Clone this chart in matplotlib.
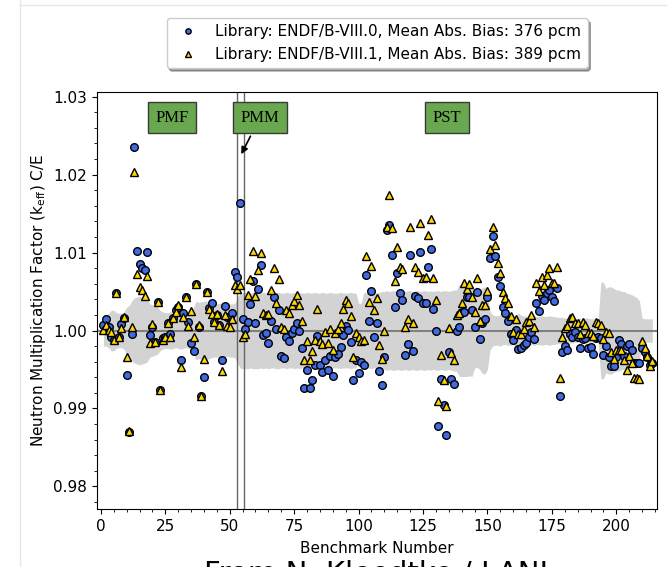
import numpy as np
import matplotlib
matplotlib.use("Agg")
import matplotlib.pyplot as plt
from matplotlib.lines import Line2D
from matplotlib.ticker import MultipleLocator
matplotlib.rcParams.update({'font.size': 11})

# C/E bias in pcm, benchmark order
bias_80 = [73, 149, 43, -77, -128, 487, -85, 85, 158, -576,
           -1307, -43, 2357, 1021, 850, 807, 773, 1012, -56, 51,
           -149, 371, -769, -98, -77, 102, -43, 158, 265, 307,
           -384, 222, 436, 115, -162, -269, 598, 51, -845, -598,
           491, 286, 359, 115, 201, 73, -384, 316, 171, 179,
           231, 747, 692, 1631, 149, 21, 115, 342, 641, 102,
           529, 841, -56, -26, -154, 124, 436, 21, 265, -325,
           -354, -77, -141, -34, 21, 94, 0, -226, -739, -512,
           -739, -632, -440, -68, -440, -534, -376, -512, -333, -589,
           -346, -303, -214, -56, 60, 9, -149, -641, -384, -547,
           -406, -448, 713, 128, 512, -85, 102, -525, -696, -346,
           1290, 1354, 969, 307, 734, 478, 393, -320, -175, 969,
           -269, 448, 414, 1012, 359, 359, 820, 1046, 273, -9,
           -1230, -619, -952, -1337, -282, -623, -683, 0, 51, 243,
           235, 436, 436, 265, 51, 491, -111, 102, 149, 427,
           927, 1213, 956, 692, 576, 307, 231, 124, -47, -120,
           9, -235, -218, -184, -154, -77, -13, -107, 359, 256,
           444, 393, 478, 521, 436, 380, 542, -845, -282, -196,
           -248, -47, -77, -13, -77, -226, -107, -98, -218, -214,
           -303, -98, -77, -98, -320, -205, -342, -461, -461, -346,
           -128, -171, -333, -205, -171, -248, -418, -418, -418, -226,
           -282, -342, -440, -418]

bias_81 = [9, 73, 9, -13, -128, 487, -85, 30, 179, -342,
           -1294, 51, 2037, 726, 564, 521, 448, 705, -162, 85,
           -149, 371, -769, -120, -85, 102, -85, 158, 243, 329,
           -470, 179, 436, 60, 252, -77, 598, 73, -845, -367,
           491, 278, 209, 115, 209, 73, -517, 201, 60, 51,
           149, 585, 534, 585, -85, -47, 457, 662, 1021, 448,
           777, 999, 222, 201, 209, 521, 798, 359, 662, 51,
           17, 265, 231, 329, 380, 457, 329, 128, -384, -132,
           -376, -269, -120, 273, -141, -175, -13, -162, 21, -256,
           -34, 21, 94, 278, 393, 359, 192, -342, -34, -77,
           -132, -128, 956, 371, 828, 265, 414, -184, -367, 0,
           1332, 1738, 1311, 636, 1076, 820, 790, 51, 149, 1332,
           102, 820, 747, 1383, 670, 692, 1225, 1430, 670, 393,
           -910, -312, -641, -974, 38, -290, -376, 201, 231, 350,
           606, 534, 598, 427, 243, 679, 128, 329, 329, 508,
           1046, 1332, 1097, 863, 734, 491, 414, 359, 188, -13,
           145, -43, -43, 21, 115, 128, 201, 51, 615, 512,
           692, 585, 713, 798, 606, 606, 811, -611, -77, 30,
           60, 158, 179, 102, 102, -43, 115, 73, -34, -26,
           -68, 115, 94, 73, -111, -13, -26, -282, -367, -256,
           -248, -248, -384, -512, -333, -418, -611, -611, -623, -141,
           -226, -325, -453, -397]

# experimental 1-sigma uncertainty, pcm
unc_exp = [200, 200, 220, 260, 260, 230, 220, 220, 240, 300,
           320, 380, 420, 430, 440, 430, 420, 400, 340, 330,
           320, 300, 260, 240, 230, 230, 240, 230, 220, 230,
           240, 230, 220, 230, 240, 300, 380, 360, 370, 370,
           380, 360, 350, 340, 340, 350, 340, 340, 330, 340,
           340, 350, 420, 480, 490, 490, 490, 480, 490, 490,
           490, 480, 490, 480, 490, 480, 480, 490, 490, 480,
           480, 490, 480, 480, 490, 480, 490, 480, 480, 490,
           480, 480, 490, 480, 480, 490, 480, 480, 490, 480,
           480, 480, 490, 480, 480, 480, 490, 480, 480, 350,
           350, 490, 480, 480, 490, 480, 480, 490, 500, 500,
           510, 500, 510, 510, 500, 510, 510, 500, 510, 510,
           500, 510, 510, 500, 510, 510, 500, 510, 500, 510,
           510, 500, 510, 510, 500, 510, 520, 520, 590, 590,
           590, 590, 580, 590, 480, 470, 500, 550, 560, 500,
           250, 200, 190, 190, 200, 180, 180, 190, 190, 180,
           200, 220, 200, 180, 190, 180, 180, 190, 180, 180,
           190, 180, 180, 190, 180, 180, 170, 170, 170, 160,
           160, 160, 160, 150, 150, 160, 150, 160, 160, 150,
           150, 150, 150, 620, 620, 540, 560, 560, 540, 520,
           520, 500, 500, 480, 470, 460, 440, 420, 380, 160,
           150, 150, 150, 150]

labels = ["Library: ENDF/B-VIII.0, Mean Abs. Bias: 376 pcm",
          "Library: ENDF/B-VIII.1, Mean Abs. Bias: 389 pcm"]
sections = ["PMF", "PMM", "PST"]
section_x = [27.6, 61.7, 134.3]
pmm_edges = [52.8, 55.6]

bench = np.arange(1, len(bias_80) + 1)
ce_80 = 1 + np.array(bias_80) / 1e5
ce_81 = 1 + np.array(bias_81) / 1e5
unc = np.array(unc_exp) / 1e5

fig = plt.figure(figsize=(6.67, 5.67), dpi=100)
ax = fig.add_axes([97/667, 1 - 509/567, 560/667, 417/567])

ax.fill_between(bench, 1 - unc, 1 + unc, color='lightgray', lw=0, zorder=1)
ax.axhline(1.0, color='gray', lw=1.5, zorder=2)
for xe in pmm_edges:
    ax.axvline(xe, color='#666666', lw=1.0, zorder=2)

ax.plot(bench, ce_80, 'o', ms=5.5, mfc='royalblue', mec='black', mew=1, ls='none', label=labels[0], zorder=3)
ax.plot(bench, ce_81, '^', ms=5.5, mfc='gold', mec='black', mew=1, ls='none', label=labels[1], zorder=4)

box = dict(boxstyle='square,pad=0.45', fc='#6aa84f', ec='#3a3a3a', lw=1)
for name, xs in zip(sections, section_x):
    if name == "PMM":
        ax.annotate(name, xy=(54.0, 1.0223), xytext=(xs, 1.0273), ha='center', va='center',
                    family='Liberation Serif', fontsize=12, bbox=box, zorder=6,
                    arrowprops=dict(arrowstyle='-|>', color='black', lw=1.2, mutation_scale=10))
    else:
        ax.text(xs, 1.0273, name, ha='center', va='center', family='Liberation Serif',
                fontsize=12, bbox=box, zorder=6)

ax.set_xlim(-1.5, 215.8)
ax.set_ylim(0.9771, 1.0306)
ax.xaxis.set_major_locator(MultipleLocator(25))
ax.xaxis.set_minor_locator(MultipleLocator(5))
ax.yaxis.set_major_locator(MultipleLocator(0.01))
ax.yaxis.set_minor_locator(MultipleLocator(0.002))
ax.set_xlabel("Benchmark Number", labelpad=5)
ax.set_ylabel(r"Neutron Multiplication Factor (k$_{\mathrm{eff}}$) C/E")

ax.legend(loc='lower center', bbox_to_anchor=(0.5, 1.057), shadow=True, markerscale=0.7,
          fontsize=11, framealpha=1, borderaxespad=0)

fig.text(0.570, 0.014, "From N. Kleedtke / LANL", ha='center', va='top', fontsize=21)

# faint page edges visible in the screenshot
fig.add_artist(Line2D([20/667, 20/667], [0, 1], color='#e6e6e6', lw=1))
fig.add_artist(Line2D([20/667, 1], [1 - 5/567, 1 - 5/567], color='#e6e6e6', lw=1))

fig.savefig("out.png", dpi=100)
